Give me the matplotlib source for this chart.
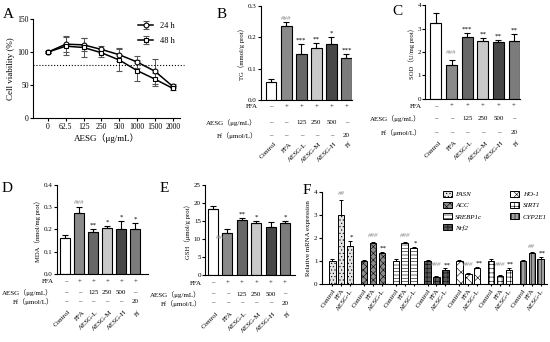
import matplotlib.pyplot as plt
import matplotlib.transforms as mtransforms
import numpy as np

plt.rcParams['font.family'] = ['Liberation Serif', 'Noto Sans CJK SC']
plt.rcParams['font.size'] = 5
plt.rcParams['axes.linewidth'] = 0.8
plt.rcParams['hatch.linewidth'] = 0.4
plt.rcParams['xtick.major.width'] = 0.8
plt.rcParams['ytick.major.width'] = 0.8
plt.rcParams['xtick.major.size'] = 2
plt.rcParams['ytick.major.size'] = 2
plt.rcParams['xtick.major.pad'] = 1.5
plt.rcParams['ytick.major.pad'] = 1

# ---------------------------------------------------------------------------
# Data
# ---------------------------------------------------------------------------

# A: cell viability
conc_labels = ['0', '62.5', '125', '250', '500', '1000', '1500', '2000']
via_24h = [100, 112, 111, 104, 96, 85, 71, 48]
via_24h_err = [1, 12, 10, 6, 10, 9, 19, 3]
via_48h = [100, 109, 107, 99, 88, 72, 59, 45]
via_48h_err = [1, 14, 14, 6, 17, 16, 10, 3]

# B-E: biochemical indices
groups = ['Control', 'FFA', 'AESG-L', 'AESG-M', 'AESG-H', 'Ff']
ffa_row = ['–', '+', '+', '+', '+', '+']
aesg_row = ['–', '–', '125', '250', '500', '–']
ff_row = ['–', '–', '–', '–', '–', '20']

tg = [0.058, 0.235, 0.147, 0.165, 0.177, 0.135]
tg_err = [0.008, 0.012, 0.030, 0.015, 0.024, 0.012]
tg_sig = ['', '###', '***', '**', '*', '***']

sod = [3.25, 1.45, 2.62, 2.45, 2.42, 2.47]
sod_err = [0.40, 0.20, 0.17, 0.15, 0.10, 0.28]
sod_sig = ['', '###', '***', '**', '**', '**']

mda = [0.160, 0.275, 0.188, 0.207, 0.202, 0.203]
mda_err = [0.015, 0.025, 0.013, 0.008, 0.035, 0.025]
mda_sig = ['', '###', '**', '*', '*', '*']

gsh = [18.3, 11.8, 15.3, 14.4, 13.4, 14.4]
gsh_err = [1.0, 0.9, 0.6, 0.5, 1.2, 0.6]
gsh_sig = ['', '###', '**', '*', '', '*']

# F: relative mRNA expression
genes = ['FASN', 'ACC', 'SREBP1c', 'Nrf2', 'HO-1', 'SIRT1', 'CYP2E1']
mrna_groups = ['Control', 'FFA', 'AESG-L']
mrna = [[1.00, 3.00, 1.65],
        [1.00, 1.78, 1.35],
        [1.00, 1.78, 1.54],
        [1.00, 0.31, 0.60],
        [1.00, 0.44, 0.67],
        [1.00, 0.33, 0.62],
        [1.00, 1.33, 1.10]]
mrna_err = [[0.08, 0.65, 0.22],
            [0.03, 0.06, 0.04],
            [0.08, 0.05, 0.05],
            [0.05, 0.04, 0.07],
            [0.05, 0.05, 0.06],
            [0.06, 0.04, 0.06],
            [0.05, 0.05, 0.08]]
mrna_sig = [['', '##', '*'],
            ['', '###', '**'],
            ['', '###', '*'],
            ['', '###', '**'],
            ['', '###', '**'],
            ['', '###', '**'],
            ['', '##', '**']]

bar_colors = ['white', '#8a8a8a', '#676767', '#c9c9c9', '#474747', '#7c7c7c']
gene_styles = [('#e4e4e4', '.....'), ('#8c8c8c', 'xxxxx'), ('white', '-----'),
               ('#5a5a5a', '++++'), ('white', 'xxx'), ('white', '++++'),
               ('#a0a0a0', '|||||')]
hash_grey = '#8c8c8c'

fig = plt.figure(figsize=(5.5, 3.42), dpi=100)


def style_axes(ax):
    ax.spines['top'].set_visible(False)
    ax.spines['right'].set_visible(False)


def bar_panel(ax, vals, errs, sig, ylim, yticks, ylabel, xlim, rows_y, cat_y,
              hash_offset=(0, 0)):
    x = np.arange(len(groups))
    ax.bar(x, vals, width=0.7, color=bar_colors, edgecolor='black',
           linewidth=0.8, zorder=2)
    ax.errorbar(x, vals, yerr=[np.zeros(len(vals)), errs], fmt='none',
                ecolor='black', elinewidth=0.8, capsize=2, capthick=0.8,
                zorder=3)
    span = ylim[1] - ylim[0]
    for i, s in enumerate(sig):
        if not s:
            continue
        if s.startswith('#'):
            ax.text(i + hash_offset[0], vals[i] + errs[i] + span * 0.02 + hash_offset[1],
                    s, ha='center', va='bottom', color=hash_grey, fontsize=5)
        else:
            ax.text(i, vals[i] + errs[i] + span * 0.015, s, ha='center',
                    va='bottom', fontsize=5)
    ax.set_xlim(*xlim)
    ax.set_ylim(*ylim)
    ax.set_yticks(yticks)
    ax.set_xticks([])
    ax.set_ylabel(ylabel, fontsize=4.8, labelpad=2)
    style_axes(ax)

    trans = mtransforms.blended_transform_factory(ax.transData, ax.transAxes)
    rows = [('FFA', ffa_row), ('AESG（μg/mL）', aesg_row), ('Ff（μmol/L）', ff_row)]
    for (name, row), y in zip(rows, rows_y):
        ax.text(-0.04, y, name, transform=ax.transAxes, ha='right',
                va='center', fontsize=5)
        for i, t in enumerate(row):
            ax.text(i, y, t, transform=trans, ha='center', va='center',
                    fontsize=5)
    for i, g in enumerate(groups):
        ax.text(i + 0.2, cat_y, g, transform=trans, rotation=45, ha='right',
                va='top', rotation_mode='anchor', fontsize=5)


# ---------------------------------------------------------------------------
# A
# ---------------------------------------------------------------------------
axA = fig.add_axes([0.060, 0.655, 0.267, 0.289])
xa = np.arange(len(conc_labels))
axA.errorbar(xa, via_24h, yerr=via_24h_err, color='black', marker='o',
             markersize=3.5, markerfacecolor='white', markeredgewidth=0.8,
             linewidth=1.1, ecolor='#555555', elinewidth=0.7, capsize=2,
             capthick=0.7, label='24 h')
axA.errorbar(xa, via_48h, yerr=via_48h_err, color='black', marker='s',
             markersize=3.2, markerfacecolor='white', markeredgewidth=0.8,
             linewidth=1.1, ecolor='#555555', elinewidth=0.7, capsize=2,
             capthick=0.7, label='48 h')
axA.axhline(80, color='black', linestyle=':', linewidth=0.8, xmax=1.03,
            clip_on=False)
axA.set_xlim(-0.84, 7.4)
axA.set_ylim(0, 150)
axA.set_yticks([0, 50, 100, 150])
axA.set_xticks(xa)
axA.set_xticklabels(conc_labels, fontsize=5.5)
axA.tick_params(axis='y', labelsize=5.5)
axA.set_xlabel('AESG（μg/mL）', fontsize=6.5, labelpad=2)
axA.set_ylabel('Cell viability (%)', fontsize=6.5, labelpad=2)
style_axes(axA)
axA.legend(loc='upper right', bbox_to_anchor=(1.0, 1.02), frameon=False,
           fontsize=6, handlelength=1.8, labelspacing=0.8, borderaxespad=0.2)

# ---------------------------------------------------------------------------
# B - E
# ---------------------------------------------------------------------------
axB = fig.add_axes([0.4745, 0.708, 0.165, 0.275])
bar_panel(axB, tg, tg_err, tg_sig, (0, 0.3), [0.0, 0.1, 0.2, 0.3],
          'TG（mmol/g prot）', (-0.68, 5.35), [-0.075, -0.245, -0.383], -0.44)
axB.set_yticklabels(['0.0', '0.1', '0.2', '0.3'])

axC = fig.add_axes([0.773, 0.711, 0.173, 0.274])
bar_panel(axC, sod, sod_err, sod_sig, (0, 4), [0, 1, 2, 3, 4],
          'SOD（U/mg prot）', (-0.69, 5.4), [-0.085, -0.213, -0.362], -0.44,
          hash_offset=(0, 0.15))

axD = fig.add_axes([0.1036, 0.199, 0.165, 0.260])
bar_panel(axD, mda, mda_err, mda_sig, (0, 0.4), [0.0, 0.1, 0.2, 0.3, 0.4],
          'MDA（nmol/mg prot）', (-0.6, 5.9), [-0.09, -0.213, -0.315], -0.40)
axD.set_yticklabels(['0.0', '0.1', '0.2', '0.3', '0.4'])

axE = fig.add_axes([0.3727, 0.196, 0.164, 0.263])
bar_panel(axE, gsh, gsh_err, gsh_sig, (0, 25), [0, 5, 10, 15, 20, 25],
          'GSH（μmol/g prot）', (-0.55, 5.7), [-0.09, -0.213, -0.315], -0.40,
          hash_offset=(-0.4, -3.5))

# ---------------------------------------------------------------------------
# F
# ---------------------------------------------------------------------------
axF = fig.add_axes([0.585, 0.170, 0.410, 0.269])
group_step = 3.6
tick_pos = []
tick_lab = []
for g, gene in enumerate(genes):
    face, hatch = gene_styles[g]
    xs = g * group_step + np.arange(3)
    axF.bar(xs, mrna[g], width=0.74, color=face, edgecolor='black',
            hatch=hatch, linewidth=0.7, label=gene, zorder=2)
    axF.errorbar(xs, mrna[g], yerr=[np.zeros(3), mrna_err[g]], fmt='none',
                 ecolor='black', elinewidth=0.7, capsize=1.2, capthick=0.7,
                 zorder=3)
    for k in range(3):
        s = mrna_sig[g][k]
        if not s:
            continue
        top = mrna[g][k] + mrna_err[g][k]
        if s.startswith('#'):
            y = max(top, 0.6) + 0.15
            axF.text(xs[k], y, s, ha='center', va='bottom', color=hash_grey,
                     fontsize=5, style='italic')
        else:
            axF.text(xs[k] + 0.2, top + 0.05, s, ha='center', va='bottom',
                     fontsize=5)
    tick_pos.extend(xs)
    tick_lab.extend(mrna_groups)

axF.set_xlim(-1.2, 6 * group_step + 2.75)
axF.set_ylim(0, 4)
axF.set_yticks([0, 1, 2, 3, 4])
axF.set_xticks(tick_pos)
axF.set_xticklabels(tick_lab, rotation=55, ha='right', rotation_mode='anchor',
                    fontsize=5)
axF.tick_params(axis='x', length=1.5)
axF.set_ylabel('Relative mRNA expression', fontsize=5, labelpad=2)
style_axes(axF)

leg = axF.legend(ncol=2, loc='upper right', bbox_to_anchor=(1.01, 1.04),
                 frameon=False, fontsize=5, handlelength=1.3, handleheight=0.9,
                 labelspacing=0.7, columnspacing=4.0, handletextpad=0.5,
                 borderaxespad=0)
for t in leg.get_texts():
    t.set_style('italic')

# ---------------------------------------------------------------------------
# Panel letters
# ---------------------------------------------------------------------------
for letter, (px, py) in {'A': (3, 8), 'B': (217, 8), 'C': (392, 5),
                         'D': (2, 182), 'E': (160, 182), 'F': (303, 184)}.items():
    fig.text(px / 550, 1 - py / 342, letter, fontsize=11, ha='left', va='top')

fig.savefig('out.png', dpi=100)
